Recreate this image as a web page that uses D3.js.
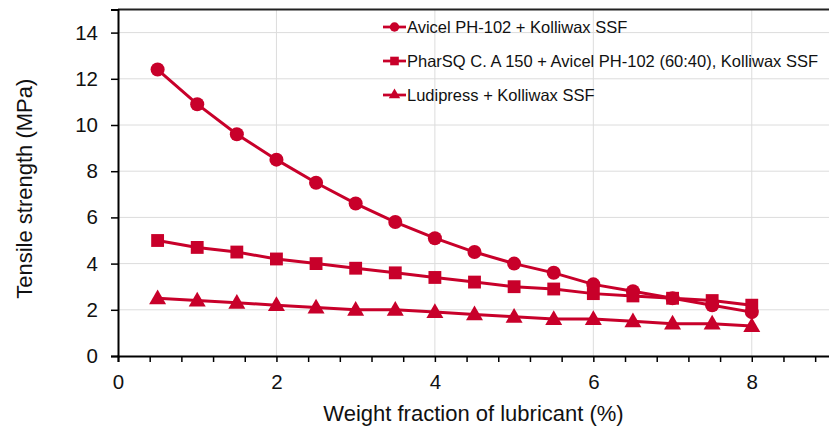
<!DOCTYPE html>
<html>
<head>
<meta charset="utf-8">
<script src="https://cdn.jsdelivr.net/npm/d3@7"></script>
<style>
  html, body { margin: 0; padding: 0; background: #fff; }
  svg { display: block; font-family: "Liberation Sans", Arial, sans-serif; }
</style>
</head>
<body>
<div id="chart"></div>
<script>
// ---- Data -------------------------------------------------------------------
const lubricant = [0.5, 1, 1.5, 2, 2.5, 3, 3.5, 4, 4.5, 5, 5.5, 6, 6.5, 7, 7.5, 8];

const avicel   = [12.4, 10.9, 9.6, 8.5, 7.5, 6.6, 5.8, 5.1, 4.5, 4.0, 3.6, 3.1, 2.8, 2.5, 2.2, 1.9];
const pharsq   = [5.0, 4.7, 4.5, 4.2, 4.0, 3.8, 3.6, 3.4, 3.2, 3.0, 2.9, 2.7, 2.6, 2.5, 2.4, 2.2];
const ludipress = [2.5, 2.4, 2.3, 2.2, 2.1, 2.0, 2.0, 1.9, 1.8, 1.7, 1.6, 1.6, 1.5, 1.4, 1.4, 1.3];

const seriesNames = [
  'Avicel PH-102 + Kolliwax SSF',
  'PharSQ C. A 150 + Avicel PH-102 (60:40), Kolliwax SSF',
  'Ludipress + Kolliwax SSF'
];
const xTicks = [0, 2, 4, 6, 8];
const yTicks = [0, 2, 4, 6, 8, 10, 12, 14];

// ---- Layout -------------------------------------------------------------------
const W = 829, H = 427;
const RED = '#c8002a';

const x = d3.scaleLinear().domain([0, 9]).range([118, 831]);
const y = d3.scaleLinear().domain([0, 15]).range([356, 9.5]);

const svg = d3.select('#chart').append('svg')
  .attr('width', W).attr('height', H);

// gridlines
svg.append('g')
  .selectAll('line.gy').data(yTicks.filter(d => d > 0)).join('line')
  .attr('x1', x(0)).attr('x2', x(9))
  .attr('y1', d => y(d)).attr('y2', d => y(d))
  .attr('stroke', '#dcdcdc').attr('stroke-width', 1);

svg.append('g')
  .selectAll('line.gx').data(xTicks.filter(d => d > 0)).join('line')
  .attr('x1', d => x(d)).attr('x2', d => x(d))
  .attr('y1', y(0)).attr('y2', y(15))
  .attr('stroke', '#dcdcdc').attr('stroke-width', 1);

// top / right border of plot area
svg.append('path')
  .attr('d', `M${x(0)},${y(15)}H${x(9)}V${y(0)}`)
  .attr('fill', 'none').attr('stroke', '#222').attr('stroke-width', 2);

// x axis — minor ticks every 0.4, labels every 2
svg.append('g')
  .attr('transform', `translate(0,${y(0)})`)
  .call(d3.axisBottom(x)
    .tickValues(d3.range(0, 9, 0.4).map(v => +v.toFixed(1)))
    .tickFormat(d => xTicks.includes(d) ? d : '')
    .tickSize(6).tickPadding(12))
  .call(g => g.select('.domain').attr('stroke', '#000').attr('stroke-width', 2))
  .call(g => g.selectAll('.tick line').attr('stroke', '#000').attr('stroke-width', 1.5))
  .call(g => g.selectAll('text').attr('font-size', 20.5).attr('fill', '#111')
    .attr('font-family', '"Liberation Sans", Arial, sans-serif'));

// y axis
svg.append('g')
  .attr('transform', `translate(${x(0)},0)`)
  .call(d3.axisLeft(y).tickValues(yTicks).tickSize(7).tickPadding(13))
  .call(g => g.select('.domain').attr('stroke', '#000').attr('stroke-width', 2))
  .call(g => g.selectAll('.tick line').attr('stroke', '#000').attr('stroke-width', 1.5))
  .call(g => g.selectAll('text').attr('font-size', 20.5).attr('fill', '#111')
    .attr('font-family', '"Liberation Sans", Arial, sans-serif'));

// axis titles
svg.append('text')
  .attr('x', (x(0) + x(9)) / 2 - 1).attr('y', 421)
  .attr('text-anchor', 'middle')
  .attr('font-size', 22).attr('fill', '#111')
  .text('Weight fraction of lubricant (%)');

svg.append('text')
  .attr('transform', `translate(32,${(y(0) + y(15)) / 2 + 6}) rotate(-90)`)
  .attr('text-anchor', 'middle')
  .attr('font-size', 22).attr('fill', '#111')
  .text('Tensile strength (MPa)');

// ---- Series -------------------------------------------------------------------
const series = [
  { name: seriesNames[0], values: avicel,    symbol: d3.symbolCircle,   size: 155 },
  { name: seriesNames[1], values: pharsq,    symbol: d3.symbolSquare,   size: 165 },
  { name: seriesNames[2], values: ludipress, symbol: d3.symbolTriangle, size: 125 }
];

const line = d3.line().x(d => x(d[0])).y(d => y(d[1]));

series.forEach(s => {
  const pts = lubricant.map((v, i) => [v, s.values[i]]);
  const g = svg.append('g');
  g.append('path')
    .datum(pts)
    .attr('d', line)
    .attr('fill', 'none').attr('stroke', RED).attr('stroke-width', 3);
  g.selectAll('path.m').data(pts).join('path')
    .attr('class', 'm')
    .attr('transform', d => `translate(${x(d[0])},${y(d[1]) + (s.symbol === d3.symbolTriangle ? 1 : 0)})`)
    .attr('d', d3.symbol(s.symbol, s.size))
    .attr('fill', RED);
});

// ---- Legend -------------------------------------------------------------------
const legend = svg.append('g').attr('transform', 'translate(383,27)');
series.forEach((s, i) => {
  const row = legend.append('g').attr('transform', `translate(0,${i * 34})`);
  row.append('line').attr('x1', 0).attr('x2', 23)
    .attr('stroke', RED).attr('stroke-width', 2.75);
  row.append('path')
    .attr('transform', 'translate(11.5,0)')
    .attr('d', d3.symbol(s.symbol, s.size * 0.45))
    .attr('fill', RED);
  row.append('text')
    .attr('x', 24).attr('y', 0).attr('dy', '0.35em')
    .attr('font-size', 16.5).attr('fill', '#111')
    .text(s.name);
});
</script>
</body>
</html>
